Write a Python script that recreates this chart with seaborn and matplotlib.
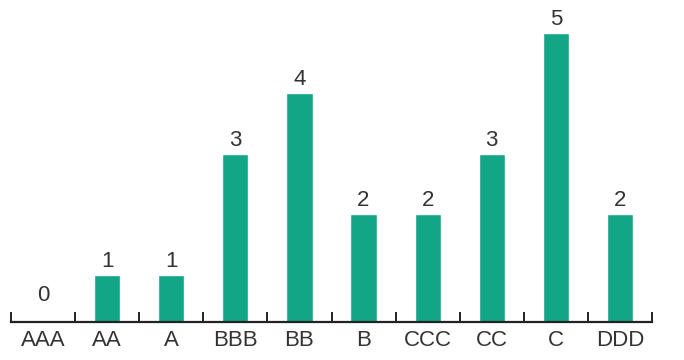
import matplotlib
matplotlib.use("Agg")
import matplotlib.pyplot as plt
import seaborn as sns
import pandas as pd
from matplotlib.ticker import FixedLocator

categories = ["AAA", "AA", "A", "BBB", "BB", "B", "CCC", "CC", "C", "DDD"]
values = [0, 1, 1, 3, 4, 2, 2, 3, 5, 2]

sns.set_style("white")
plt.rcParams['font.family'] = ['Liberation Sans', 'DejaVu Sans']

df = pd.DataFrame({"cat": categories, "val": values})
fig = plt.figure(figsize=(6.84, 3.6), dpi=100)
ax = fig.add_axes([11/684, 38/360, 641/684, 322/360])
sns.barplot(data=df, x="cat", y="val", color="#12A586", saturation=1, width=0.41, ax=ax)

ax.set_ylim(0.223, 5.545)
ax.set_xlim(-0.5, len(categories) - 0.5)
for s in ["top", "right", "left"]:
    ax.spines[s].set_visible(False)
ax.spines["bottom"].set_linewidth(1.6)
ax.spines["bottom"].set_color("#222222")
ax.set_yticks([])
ax.set_xlabel("")
ax.set_ylabel("")
ax.tick_params(axis="x", which="major", bottom=False, length=0, pad=6, labelsize=16, labelcolor="#333333")
ax.xaxis.set_minor_locator(FixedLocator([i - 0.5 for i in range(len(categories) + 1)]))
ax.tick_params(axis="x", which="minor", bottom=True, direction="in", length=7, width=1.4, color="#222222")

for i, v in enumerate(values):
    off = 21 if v == 0 else 2.5
    ax.annotate(str(v), (i, v), xytext=(0, off), textcoords="offset points",
                ha="center", va="bottom", fontsize=16, color="#333333",
                annotation_clip=False)

fig.savefig("out.png", dpi=100)
